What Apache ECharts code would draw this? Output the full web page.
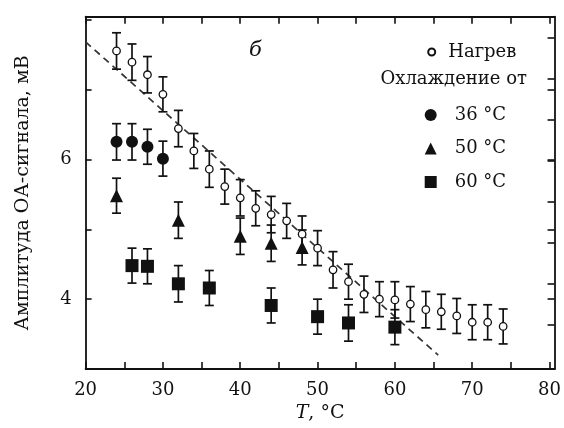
<!DOCTYPE html>
<html>
<head>
<meta charset="utf-8">
<script src="https://cdn.jsdelivr.net/npm/echarts@6/dist/echarts.min.js"></script>
<style>html,body{margin:0;padding:0;background:#fff}#c{width:564px;height:428px}</style>
</head>
<body>
<div id="c"></div>
<script>
// ---- data ----
const heatT   = [24,26,28,30,32,34,36,38,40,42,44,46,48,50,52,54,56,58,60,62,64,66,68,70,72,74];
const heatA   = [7.55,7.39,7.21,6.93,6.44,6.12,5.86,5.61,5.45,5.30,5.21,5.12,4.93,4.73,4.42,4.25,4.07,4.00,3.99,3.93,3.85,3.82,3.76,3.67,3.67,3.61];
const heatErr = [0.26,0.26,0.26,0.25,0.26,0.25,0.26,0.25,0.26,0.25,0.26,0.25,0.26,0.25,0.26,0.25,0.26,0.25,0.26,0.25,0.26,0.25,0.25,0.25,0.25,0.25];

const c36T   = [24,26,28,30];
const c36A   = [6.25,6.25,6.18,6.01];
const c36Err = [0.26,0.26,0.25,0.25];

const c50T   = [24,32,40,44,48];
const c50A   = [5.48,5.13,4.90,4.80,4.74];
const c50Err = [0.25,0.26,0.26,0.26,0.25];

const c60T   = [26,28,32,36,44,50,54,60];
const c60A   = [4.48,4.47,4.22,4.16,3.91,3.75,3.66,3.60];
const c60Err = [0.25,0.25,0.26,0.25,0.25,0.25,0.26,0.25];

const trendT = [20,65.6];
const trendA = [7.68,3.20];

const xTickValues  = [20,25,30,35,40,45,50,55,60,65,70,75,80];
const xLabelValues = [20,30,40,50,60,70,80];
const yTickValues  = [3,4,5,6,7,8];
const yLabelValues = [4,6];
const yRightTicks  = [3.637,4,4.223,4.809,5,5.394,5.98,6,6.566,7,7.151,7.737];

// ---- chart ----
const FONT = 'DejaVu Serif';
const INK = '#111';
const chart = echarts.init(document.getElementById('c'), null, {renderer:'canvas'});

function errSeries(name, xs, ys, es, cap) {
  return {
    type:'custom', name:name, silent:true, z:1,
    data: xs.map((x,i)=>[x, ys[i], es[i]]),
    encode:{x:0, y:1},
    renderItem(params, api){
      const x = api.value(0), y = api.value(1), e = api.value(2);
      const hi = api.coord([x, y+e]), lo = api.coord([x, y-e]);
      const st = {stroke:INK, lineWidth:1.7};
      return {type:'group', children:[
        {type:'line', shape:{x1:hi[0], y1:hi[1], x2:lo[0], y2:lo[1]}, style:st},
        {type:'line', shape:{x1:hi[0]-cap, y1:hi[1], x2:hi[0]+cap, y2:hi[1]}, style:st},
        {type:'line', shape:{x1:lo[0]-cap, y1:lo[1], x2:lo[0]+cap, y2:lo[1]}, style:st}
      ]};
    }
  };
}
const zip = (a,b)=>a.map((v,i)=>[v,b[i]]);

const XMIN = 20, XMAX = 80.65, YMIN = 3, YMAX = 8.04;

const option = {
  animation:false,
  backgroundColor:'#fff',
  textStyle:{fontFamily:FONT, color:INK},
  grid:{left:85.6, right:9, top:16.7, bottom:58.7, containLabel:false},
  xAxis:[
    {type:'value', position:'bottom', min:XMIN, max:XMAX,
     axisLine:{show:true, onZero:false, lineStyle:{color:INK, width:1.8}},
     axisTick:{show:true, inside:true, length:7, customValues:xTickValues, lineStyle:{color:INK, width:1.6}},
     axisLabel:{show:true, customValues:xLabelValues, margin:12, fontFamily:FONT, fontSize:18, color:INK},
     splitLine:{show:false},
     name:'{i|T}, °C', nameLocation:'middle', nameGap:33,
     nameTextStyle:{fontFamily:FONT, fontSize:19, color:INK,
       rich:{i:{fontFamily:FONT, fontSize:19, fontStyle:'italic', color:INK}}}},
    {type:'value', position:'top', min:XMIN, max:XMAX,
     axisLine:{show:true, onZero:false, lineStyle:{color:INK, width:1.8}},
     axisTick:{show:true, inside:true, length:7, customValues:xTickValues, lineStyle:{color:INK, width:1.6}},
     axisLabel:{show:false}, splitLine:{show:false}}
  ],
  yAxis:[
    {type:'value', position:'left', min:YMIN, max:YMAX,
     axisLine:{show:true, onZero:false, lineStyle:{color:INK, width:1.8}},
     axisTick:{show:true, inside:true, length:6, customValues:yTickValues, lineStyle:{color:INK, width:1.6}},
     axisLabel:{show:true, customValues:yLabelValues, margin:14, fontFamily:FONT, fontSize:18, color:INK},
     splitLine:{show:false},
     name:'Амплитуда ОА-сигнала, мВ', nameLocation:'middle', nameGap:53, nameRotate:90,
     nameTextStyle:{fontFamily:FONT, fontSize:19, color:INK}},
    {type:'value', position:'right', min:YMIN, max:YMAX,
     axisLine:{show:true, onZero:false, lineStyle:{color:INK, width:1.8}},
     axisTick:{show:true, inside:true, length:7, customValues:yRightTicks, lineStyle:{color:INK, width:1.6}},
     axisLabel:{show:false}, splitLine:{show:false}}
  ],
  legend:[
    {data:['Нагрев'], orient:'vertical', left:422.2, top:37, itemWidth:7, itemHeight:7,
     itemGap:0, textStyle:{fontFamily:FONT, fontSize:18, color:INK, lineHeight:20, padding:[0,0,0,8]}},
    {data:['36 °C','50 °C','60 °C'], orient:'vertical', left:419.7, top:100, itemWidth:12, itemHeight:12,
     itemGap:13.5, textStyle:{fontFamily:FONT, fontSize:18, color:INK, lineHeight:20, padding:[0,0,0,13]}}
  ],
  graphic:[
    {type:'text', right:564-527, top:70, style:{text:'Охлаждение от', font:'18px "DejaVu Serif"', fill:INK}},
    {type:'text', left:249, top:40, style:{text:'б', font:'italic 21px "DejaVu Serif"', fill:INK}}
  ],
  series:[
    {type:'line', name:'trend', data:zip(trendT,trendA), symbol:'none', silent:true, z:0,
     lineStyle:{color:'#333', width:1.7, type:[7,5]}},
    errSeries('heat-err', heatT, heatA, heatErr, 4.5),
    errSeries('c36-err', c36T, c36A, c36Err, 4.5),
    errSeries('c50-err', c50T, c50A, c50Err, 4.5),
    errSeries('c60-err', c60T, c60A, c60Err, 4.5),
    {type:'scatter', name:'Нагрев', data:zip(heatT,heatA), symbol:'circle', symbolSize:7.5, z:3,
     itemStyle:{color:'#fff', borderColor:INK, borderWidth:1.3, opacity:1}},
    {type:'scatter', name:'36 °C', data:zip(c36T,c36A), symbol:'circle', symbolSize:12, z:3,
     itemStyle:{color:INK, opacity:1}},
    {type:'scatter', name:'50 °C', data:zip(c50T,c50A), symbol:'triangle', symbolSize:13, z:3,
     itemStyle:{color:INK, opacity:1}},
    {type:'scatter', name:'60 °C', data:zip(c60T,c60A), symbol:'rect', symbolSize:13, z:3,
     itemStyle:{color:INK, opacity:1}}
  ]
};
chart.setOption(option);
</script>
</body>
</html>
